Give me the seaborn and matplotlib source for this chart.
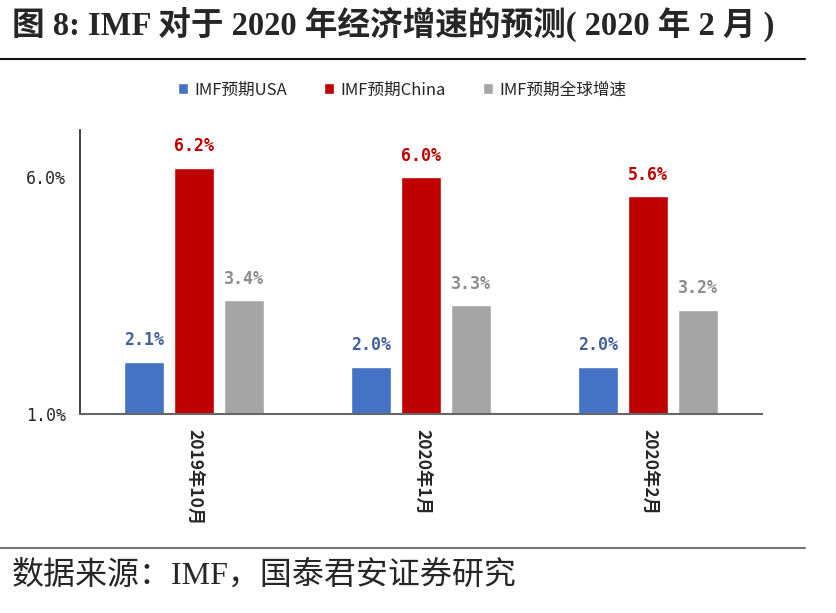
import matplotlib
matplotlib.use("Agg")
import pandas as pd
import matplotlib.pyplot as plt
import seaborn as sns
from matplotlib.lines import Line2D
from matplotlib.ticker import FixedLocator

# data
periods = ['2019年10月', '2020年1月', '2020年2月']
series = ['IMF预期USA', 'IMF预期China', 'IMF预期全球增速']
usa = [2.1, 2.0, 2.0]
china = [6.2, 6.0, 5.6]
world = [3.4, 3.3, 3.2]

bar_colors = ['#4472C4', '#C00000', '#A5A5A5']
label_colors = ['#44609A', '#C00000', '#8C8C8C']

df = pd.DataFrame({
    'period': periods * 3,
    'series': [s for s in series for _ in periods],
    'value': usa + china + world,
})

sns.set_style('white')
plt.rcParams['font.family'] = ['Noto Sans CJK SC', 'DejaVu Sans']

fig = plt.figure(figsize=(8.36, 6.13), dpi=100)
ax = fig.add_axes([80/836, 1-414/613, (762-80)/836, (414-130)/613])

sns.barplot(data=df, x='period', y='value', hue='series', palette=bar_colors,
            width=0.66, gap=0.2, saturation=1, ax=ax)

ax.set_ylim(1, 7)
ax.set_xlim(-0.5, 2.5)
ax.set_yticks([1, 6])
ax.set_yticklabels(['1.0%', '6.0%'], family='DejaVu Sans Mono', fontsize=12)
ax.tick_params(axis='y', direction='in', length=5, color='#333333', pad=10)
ax.set_xticks(range(len(periods)))
ax.set_xticklabels(periods, rotation=-90, va='top', ha='center', fontsize=12.5,
                   fontweight='bold', family=['Noto Sans CJK SC', 'DejaVu Sans'])
ax.tick_params(axis='x', length=0, pad=11)
ax.xaxis.set_minor_locator(FixedLocator([0.5, 1.5, 2.5]))
ax.tick_params(axis='x', which='minor', direction='in', length=5, color='#555555')
ax.set_xlabel('')
ax.set_ylabel('')

for side in ['top', 'right']:
    ax.spines[side].set_visible(False)
ax.spines['left'].set_color('#222222')
ax.spines['bottom'].set_color('#666666')
ax.spines['left'].set_linewidth(1.2)
ax.spines['bottom'].set_linewidth(1.5)

for cont, col in zip(ax.containers, label_colors):
    ax.bar_label(cont, fmt='%.1f%%', padding=9, color=col, fontsize=12,
                 fontweight='bold', family='DejaVu Sans Mono')

handles, labels = ax.get_legend_handles_labels()
ax.legend_.remove()
fig.legend(handles, labels, loc='center', bbox_to_anchor=(402/836, 1-90/613), ncol=3,
           frameon=False, fontsize=12, handlelength=0.6, handleheight=0.6,
           handletextpad=0.4, columnspacing=2.2)

fig.text(12/836, 1-24/613, '图 8: IMF 对于 2020 年经济增速的预测( 2020 年 2 月 )',
         fontsize=23.5, fontweight='bold', va='center', ha='left',
         family=['Liberation Serif', 'Noto Sans CJK SC'])
fig.add_artist(Line2D([0, 805/836], [1-59/613, 1-59/613], color='#111111', lw=1.5))
fig.add_artist(Line2D([0, 805/836], [1-548/613, 1-548/613], color='#777777', lw=1.5))
fig.text(12/836, 1-576/613, '数据来源：IMF，国泰君安证券研究', fontsize=23,
         va='center', ha='left', family=['Liberation Serif', 'Noto Sans CJK SC'])

fig.savefig('out.png', dpi=100)
